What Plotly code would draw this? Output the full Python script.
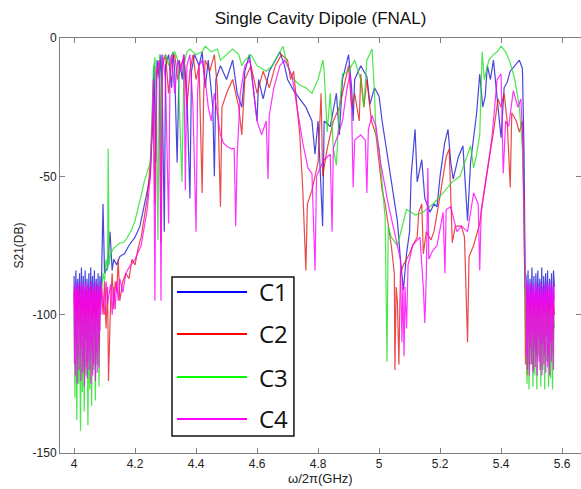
import numpy as np
import plotly.graph_objects as go

# ---------------- data ----------------
series_names = ["C1", "C2", "C3", "C4"]
series_colors = ["#1a1ad8", "#e41e1e", "#22e022", "#ff00ff"]
legend_colors = ["#0000ff", "#ff0000", "#00ff00", "#ff00ff"]

x_ticks = [4.0, 4.2, 4.4, 4.6, 4.8, 5.0, 5.2, 5.4, 5.6]
x_tick_labels = ["4", "4.2", "4.4", "4.6", "4.8", "5", "5.2", "5.4", "5.6"]
y_ticks = [-150, -100, -50, 0]
y_tick_labels = ["-150", "-100", "-50", "0"]

# noisy band below the pass band, sampled evenly over 4.00 - 4.088 GHz
left_band_span = [4.0, 4.088]
# noisy band above the pass band, sampled evenly over 5.482 - 5.575 GHz
right_band_span = [5.482, 5.575]

c1_left_band = [-86, -108, -84, -112, -87, -102, -85, -110, -83, -106, -86, -114, -84, -104, -87,
                -109, -85, -111, -83, -103, -86, -107, -84, -113, -87, -105, -85, -110, -86, -95]
c2_left_band = [-92, -112, -90, -118, -93, -105, -91, -115, -94, -108, -90, -120, -92, -110, -91,
                -117, -93, -106, -90, -114, -92, -109, -91, -119, -94, -104, -90, -113, -92, -95]
c3_left_band = [-100, -130, -98, -138, -102, -125, -97, -142, -101, -128, -99, -135, -103, -122, -98,
                -140, -100, -127, -97, -133, -102, -120, -99, -131, -101, -118, -98, -126, -100, -95]
c4_left_band = [-90, -118, -89, -122, -92, -110, -88, -125, -91, -115, -89, -120, -93, -108, -90,
                -124, -88, -112, -92, -121, -89, -117, -91, -126, -90, -109, -88, -119, -93, -123,
                -89, -113, -91, -120, -90, -116, -92, -125, -88, -111, -91, -122, -89, -118, -93,
                -107, -90, -124, -88, -114, -92, -121, -89, -110, -91, -119, -90, -106, -88, -100]

c1_right_band = [-86, -105, -84, -110, -87, -100, -83, -108, -86, -112, -85, -102, -84, -109, -87,
                 -104, -83, -111, -86, -100, -85, -107, -84, -113, -87, -103, -85, -110, -84, -90]
c2_right_band = [-95, -122, -92, -118, -96, -110, -93, -120, -95, -112, -92, -116, -97, -108, -94,
                 -119, -96, -110, -93, -115, -95, -107, -92, -117, -96, -109, -94, -114, -95, -100]
c3_right_band = [-98, -125, -96, -127, -100, -118, -97, -126, -99, -122, -96, -127, -101, -115, -98,
                 -126, -97, -120, -100, -127, -96, -117, -99, -126, -98, -123, -97, -127, -100, -105]
c4_right_band = [-90, -115, -88, -120, -92, -108, -89, -122, -91, -112, -88, -118, -93, -106, -90,
                 -121, -89, -110, -92, -119, -88, -114, -91, -122, -90, -107, -89, -117, -92, -120,
                 -88, -111, -91, -122, -90, -109, -93, -118, -89, -113, -91, -121, -88, -108, -92,
                 -119, -90, -115, -89, -122, -91, -110, -88, -117, -92, -106, -90, -120, -89, -95]

# pass-band region (GHz, dB)
c1_mid_f = [4.09, 4.095, 4.10, 4.11, 4.118, 4.125, 4.13, 4.14, 4.15, 4.165, 4.18, 4.2, 4.216, 4.23, 4.25,
            4.258, 4.262, 4.268, 4.272, 4.28, 4.285, 4.29, 4.296, 4.30, 4.31, 4.32, 4.325, 4.33, 4.338,
            4.345, 4.355, 4.36, 4.37, 4.38, 4.385, 4.395, 4.41, 4.42, 4.43, 4.44, 4.455, 4.46, 4.465,
            4.48, 4.50, 4.52, 4.535, 4.55, 4.56, 4.575, 4.59, 4.60, 4.605, 4.62, 4.64, 4.66, 4.675,
            4.69, 4.70, 4.72, 4.74, 4.76, 4.78, 4.79, 4.80, 4.815, 4.82, 4.84, 4.86, 4.87, 4.88, 4.895,
            4.90, 4.91, 4.915, 4.92, 4.94, 4.96, 4.97, 4.985, 5.00, 5.01, 5.02, 5.03, 5.045, 5.06, 5.07,
            5.08, 5.09, 5.10, 5.105, 5.112, 5.118, 5.125, 5.14, 5.15, 5.167, 5.18, 5.19, 5.20, 5.215,
            5.226, 5.235, 5.243, 5.26, 5.275, 5.285, 5.29, 5.30, 5.31, 5.32, 5.33, 5.34, 5.348, 5.355,
            5.365, 5.375, 5.39, 5.40, 5.41, 5.42, 5.43, 5.445, 5.46, 5.47, 5.475, 5.479]
c1_mid_s = [-88, -60, -85, -83, -70, -84, -80, -82, -79, -78, -75, -72, -68, -60, -50,
            -30, -10, -45, -8, -15, -6, -25, -70, -10, -6, -18, -5, -12, -45,
            -8, -15, -6, -20, -58, -12, -6, -10, -5, -18, -8, -25, -50, -15,
            -10, -15, -8, -20, -25, -12, -6, -20, -30, -15, -22, -12, -8, -5,
            -10, -15, -19, -22, -25, -30, -42, -30, -68, -30, -32, -20, -35, -15, -8,
            -6, -18, -30, -15, -10, -14, -24, -18, -21, -30, -37, -45, -55, -66, -80,
            -91, -78, -70, -50, -40, -33, -52, -44, -58, -63, -60, -61, -50, -38,
            -33, -45, -51, -43, -39, -55, -66, -45, -35, -27, -13, -25, -21, -10,
            -15, -8, -25, -36, -18, -16, -12, -10, -8, -11, -40, -85]

c2_mid_f = [4.09, 4.095, 4.10, 4.105, 4.11, 4.113, 4.12, 4.125, 4.13, 4.135, 4.14, 4.145, 4.15, 4.16,
            4.17, 4.18, 4.19, 4.20, 4.21, 4.22, 4.23, 4.24, 4.25, 4.26, 4.265, 4.27, 4.28, 4.285, 4.29,
            4.30, 4.31, 4.32, 4.33, 4.34, 4.35, 4.36, 4.37, 4.38, 4.39, 4.40, 4.41, 4.42, 4.425, 4.43,
            4.445, 4.46, 4.47, 4.48, 4.485, 4.50, 4.52, 4.54, 4.55, 4.56, 4.58, 4.60, 4.62, 4.64, 4.66,
            4.68, 4.70, 4.71, 4.72, 4.73, 4.74, 4.75, 4.76, 4.765, 4.78, 4.80, 4.81, 4.815, 4.83, 4.85,
            4.87, 4.89, 4.90, 4.91, 4.92, 4.935, 4.94, 4.95, 4.96, 4.975, 4.99, 5.00, 5.01, 5.02, 5.03,
            5.04, 5.05, 5.052, 5.056, 5.06, 5.065, 5.07, 5.08, 5.09, 5.10, 5.11, 5.125, 5.13, 5.14,
            5.145, 5.155, 5.17, 5.18, 5.20, 5.22, 5.23, 5.24, 5.25, 5.27, 5.28, 5.29, 5.295, 5.31,
            5.33, 5.35, 5.375, 5.39, 5.40, 5.41, 5.42, 5.43, 5.435, 5.45, 5.46, 5.47, 5.475, 5.48]
c2_mid_s = [-92, -100, -88, -105, -90, -124, -95, -85, -98, -88, -92, -80, -95, -88,
            -85, -87, -80, -82, -76, -72, -65, -58, -45, -25, -60, -15, -8, -74, -10,
            -6, -20, -8, -6, -15, -10, -7, -25, -12, -6, -15, -10, -56, -20, -8,
            -12, -6, -18, -61, -25, -20, -15, -25, -35, -15, -10, -20, -12, -18, -10,
            -6, -8, -15, -12, -25, -35, -55, -84, -60, -55, -45, -20, -50, -40, -30,
            -25, -15, -10, -25, -20, -30, -13, -25, -15, -30, -35, -45, -55, -60, -68,
            -75, -85, -120, -90, -95, -118, -85, -82, -80, -78, -75, -72, -63, -60,
            -78, -70, -73, -70, -57, -43, -40, -74, -68, -68, -72, -110, -79, -75,
            -67, -51, -34, -22, -25, -20, -30, -54, -27, -30, -34, -30, -60, -118]

c3_mid_f = [4.09, 4.095, 4.10, 4.105, 4.11, 4.112, 4.115, 4.12, 4.13, 4.14, 4.15, 4.16, 4.17, 4.18,
            4.19, 4.20, 4.21, 4.22, 4.23, 4.24, 4.25, 4.255, 4.26, 4.265, 4.27, 4.275, 4.28, 4.285,
            4.29, 4.30, 4.31, 4.32, 4.33, 4.34, 4.354, 4.36, 4.37, 4.38, 4.40, 4.42, 4.43, 4.45, 4.47,
            4.48, 4.50, 4.52, 4.54, 4.55, 4.56, 4.58, 4.60, 4.63, 4.65, 4.67, 4.685, 4.70, 4.72, 4.74,
            4.76, 4.78, 4.80, 4.816, 4.82, 4.83, 4.84, 4.85, 4.86, 4.87, 4.88, 4.90, 4.92, 4.94, 4.95,
            4.96, 4.977, 4.985, 4.99, 5.00, 5.013, 5.02, 5.026, 5.03, 5.04, 5.06, 5.09, 5.12, 5.144,
            5.177, 5.21, 5.24, 5.265, 5.28, 5.30, 5.31, 5.32, 5.33, 5.338, 5.345, 5.36, 5.375, 5.387,
            5.40, 5.415, 5.43, 5.445, 5.46, 5.47, 5.476, 5.48]
c3_mid_s = [-95, -85, -88, -80, -84, -40, -82, -78, -76, -75, -74, -74, -73, -71,
            -69, -66, -62, -57, -52, -48, -45, -30, -12, -7, -20, -73, -6, -40,
            -8, -6, -10, -6, -5, -8, -52, -10, -5, -4, -6, -5, -3, -5, -4,
            -8, -6, -4, -6, -10, -8, -6, -10, -12, -10, -6, -3, -10, -15, -17,
            -18, -20, -15, -8, -12, -34, -20, -40, -46, -25, -13, -12, -8, -15, -25,
            -8, -4, -20, -35, -40, -55, -65, -117, -68, -72, -75, -62, -64, -63,
            -60, -56, -52, -50, -45, -39, -47, -42, -35, -5, -15, -8, -6, -5,
            -3, -5, -9, -15, -25, -40, -70, -98]

c4_mid_f = [4.09, 4.10, 4.105, 4.11, 4.12, 4.125, 4.13, 4.135, 4.14, 4.145, 4.15, 4.16, 4.17, 4.18,
            4.20, 4.22, 4.24, 4.25, 4.255, 4.26, 4.265, 4.27, 4.28, 4.285, 4.29, 4.30, 4.31, 4.315,
            4.32, 4.33, 4.34, 4.35, 4.36, 4.365, 4.37, 4.38, 4.39, 4.40, 4.405, 4.41, 4.42, 4.43, 4.44,
            4.45, 4.46, 4.47, 4.48, 4.49, 4.50, 4.515, 4.525, 4.53, 4.535, 4.545, 4.56, 4.577, 4.59,
            4.60, 4.615, 4.63, 4.636, 4.64, 4.655, 4.675, 4.69, 4.70, 4.715, 4.73, 4.75, 4.767, 4.78,
            4.79, 4.795, 4.807, 4.82, 4.84, 4.846, 4.85, 4.865, 4.88, 4.895, 4.905, 4.91, 4.915, 4.92,
            4.94, 4.955, 4.96, 4.965, 4.977, 4.99, 5.005, 5.015, 5.03, 5.046, 5.06, 5.07, 5.075, 5.078,
            5.082, 5.085, 5.09, 5.095, 5.10, 5.11, 5.125, 5.134, 5.145, 5.15, 5.155, 5.16, 5.163,
            5.175, 5.19, 5.21, 5.216, 5.22, 5.235, 5.255, 5.27, 5.29, 5.31, 5.325, 5.33, 5.335, 5.354,
            5.37, 5.387, 5.40, 5.407, 5.415, 5.425, 5.44, 5.455, 5.465, 5.472, 5.478]
c4_mid_s = [-90, -100, -88, -96, -89, -100, -90, -98, -88, -95, -87, -92, -85, -83,
            -80, -75, -62, -50, -35, -15, -95, -12, -8, -95, -6, -15, -67, -10,
            -6, -20, -8, -12, -6, -55, -10, -6, -25, -70, -20, -10, -8, -15, -25,
            -30, -20, -28, -35, -38, -39, -40, -40, -68, -42, -20, -10, -8, -20,
            -30, -35, -30, -51, -28, -18, -10, -8, -10, -14, -25, -38, -47, -49,
            -84, -50, -47, -44, -42, -70, -40, -35, -30, -18, -13, -25, -54, -37,
            -35, -37, -56, -33, -28, -32, -45, -51, -60, -68, -75, -80, -110, -88,
            -115, -90, -105, -82, -80, -75, -73, -72, -90, -103, -85, -47, -80,
            -77, -75, -63, -85, -62, -61, -70, -68, -70, -56, -60, -84, -62, -49,
            -36, -15, -13, -49, -30, -32, -19, -25, -22, -40, -90]

left_bands = [c1_left_band, c2_left_band, c3_left_band, c4_left_band]
right_bands = [c1_right_band, c2_right_band, c3_right_band, c4_right_band]
mid_freqs = [c1_mid_f, c2_mid_f, c3_mid_f, c4_mid_f]
mid_vals = [c1_mid_s, c2_mid_s, c3_mid_s, c4_mid_s]

# ---------------- figure ----------------
fig = go.Figure()
for name, color, lb, mf, ms, rb in zip(series_names, series_colors, left_bands,
                                        mid_freqs, mid_vals, right_bands):
    f = np.concatenate([np.linspace(left_band_span[0], left_band_span[1], len(lb)),
                        np.array(mf),
                        np.linspace(right_band_span[0], right_band_span[1], len(rb))])
    s = np.concatenate([np.array(lb), np.array(ms), np.array(rb)])
    fig.add_trace(go.Scatter(x=f, y=s, mode="lines", name=name, showlegend=False,
                             line=dict(color=color, width=1.2), opacity=0.8))

font_family = "Liberation Sans, Arial"
axis_common = dict(showline=True, linecolor="#7f7f7f", linewidth=1, mirror="ticks",
                   ticks="inside", ticklen=5, tickcolor="#7f7f7f", showgrid=False,
                   zeroline=False, automargin=False,
                   tickfont=dict(family=font_family, size=12, color="#222"))

fig.update_layout(
    width=581, height=489,
    margin=dict(l=60, r=0, t=38, b=36),
    paper_bgcolor="white", plot_bgcolor="white",
    title=dict(text="Single Cavity Dipole (FNAL)", x=0.5, xref="paper", xanchor="center",
               y=1 - 18 / 489, yanchor="middle",
               font=dict(family=font_family, size=17, color="#111")),
    xaxis=dict(range=[3.954, 5.662], tickvals=x_ticks, ticktext=x_tick_labels, **axis_common),
    yaxis=dict(range=[-150, 0], tickvals=y_ticks, ticktext=y_tick_labels, **axis_common),
)

# axis titles
fig.add_annotation(xref="paper", yref="paper", x=0.5, y=-16 / 415, text="ω/2π(GHz)",
                   showarrow=False, xanchor="center", yanchor="top",
                   font=dict(family=font_family, size=13, color="#222"))
fig.add_annotation(xref="paper", yref="paper", x=-42 / 521, y=0.5, text="S21(DB)",
                   showarrow=False, xanchor="center", yanchor="middle", textangle=-90,
                   font=dict(family=font_family, size=12, color="#222"))

# legend box drawn like the reference (long line samples, large labels)
fig.add_shape(type="rect", xref="paper", yref="paper", x0=0.215, x1=0.449, y0=0.041, y1=0.424,
              line=dict(color="#111", width=1.5), fillcolor="white", layer="above")
legend_y = [0.388, 0.287, 0.183, 0.082]
for name, color, ly in zip(series_names, legend_colors, legend_y):
    fig.add_shape(type="line", xref="paper", yref="paper", x0=0.2246, x1=0.359, y0=ly, y1=ly,
                  line=dict(color=color, width=2), layer="above")
    fig.add_annotation(xref="paper", yref="paper", x=0.378, y=ly, text=name, showarrow=False,
                       xanchor="left", yanchor="middle",
                       font=dict(family="Open Sans, Noto Sans", size=24, color="#111"))

fig.write_html("out.html", config={"displayModeBar": False},
               post_script="document.body.style.margin='0';document.body.style.overflow='hidden';")
